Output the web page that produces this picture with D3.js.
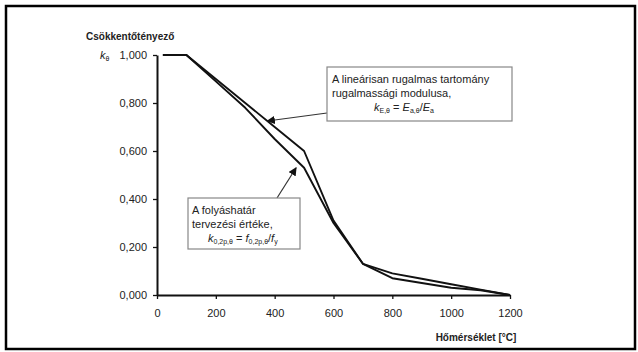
<!DOCTYPE html>
<html lang="hu">
<head>
  <meta charset="UTF-8">
  <title>Csökkentőtényező</title>
  <style>
    html, body { margin: 0; width: 100%; height: 100%; overflow: hidden; background: #fff; }
    svg { display: block; font-family: "Liberation Sans", Arial, sans-serif; }
    .tick text { font-size: 11px; fill: #222; }
  </style>
</head>
<body>
  <div id="chart"></div>
  <script src="https://cdn.jsdelivr.net/npm/d3@7"></script>
  <script>
    // hőmérséklet [°C]
    const temps = [20, 100, 200, 300, 400, 500, 600, 700, 800, 900, 1000, 1100, 1200]
    // k_E,θ  (rugalmassági modulus)
    const kE = [1, 1, 0.9, 0.8, 0.7, 0.6, 0.31, 0.13, 0.09, 0.0675, 0.045, 0.0225, 0]
    // k_0,2p,θ (folyáshatár tervezési értéke)
    const k02p = [1, 1, 0.89, 0.78, 0.65, 0.53, 0.30, 0.13, 0.07, 0.05, 0.03, 0.02, 0]
    const xTicks = [0, 200, 400, 600, 800, 1000, 1200]
    const yTicks = [0, 0.2, 0.4, 0.6, 0.8, 1.0]

    const width = 638
    const height = 352

    const x = d3.scaleLinear().domain([0, 1200]).range([157, 510])
    const y = d3.scaleLinear().domain([0, 1]).range([295, 55])

    const svg = d3.select('#chart').append('svg')
      .attr('width', width)
      .attr('height', height)

    // keret
    svg.append('rect')
      .attr('x', 6).attr('y', 6)
      .attr('width', 629).attr('height', 343)
      .attr('fill', 'none')
      .attr('stroke', '#000')
      .attr('stroke-width', 2.5)

    const fmt = d => d3.format('.3f')(d).replace('.', ',')

    const yAxis = svg.append('g')
      .attr('transform', `translate(${x(0)},0)`)
      .call(d3.axisLeft(y).tickValues(yTicks).tickSize(4).tickSizeOuter(0).tickPadding(6).tickFormat(fmt))
    const xAxis = svg.append('g')
      .attr('transform', `translate(0,${y(0)})`)
      .call(d3.axisBottom(x).tickValues(xTicks).tickSize(4).tickSizeOuter(0).tickPadding(10).tickFormat(d3.format('d')))

    ;[xAxis, yAxis].forEach(a => {
      a.select('.domain').attr('stroke', '#111').attr('stroke-width', 2)
      a.selectAll('.tick line').attr('stroke', '#111').attr('stroke-width', 1.3)
    })

    // k_θ felirat az 1,000 elé
    const kLabel = svg.append('text')
      .attr('x', 100).attr('y', y(1) + 4)
      .attr('font-size', 11).attr('fill', '#222')
    kLabel.append('tspan').attr('font-style', 'italic').text('k')
    kLabel.append('tspan').attr('font-size', 7).attr('dy', 2).text('θ')

    svg.append('text')
      .attr('x', 86).attr('y', 40)
      .attr('font-size', 10).attr('font-weight', 'bold').attr('fill', '#222')
      .text('Csökkentőtényező')

    svg.append('text')
      .attr('x', 476).attr('y', 341)
      .attr('text-anchor', 'middle')
      .attr('font-size', 10).attr('font-weight', 'bold').attr('fill', '#222')
      .text('Hőmérséklet [°C]')

    const line = d3.line()
      .x(d => x(d[0]))
      .y(d => y(d[1]))

    ;[kE, k02p].forEach(series => {
      svg.append('path')
        .datum(temps.map((t, i) => [t, series[i]]))
        .attr('d', line)
        .attr('fill', 'none')
        .attr('stroke', '#111')
        .attr('stroke-width', 1.9)
        .attr('stroke-linejoin', 'round')
    })

    // nyílhegy
    svg.append('defs').append('marker')
      .attr('id', 'arrow')
      .attr('viewBox', '0 0 10 10')
      .attr('refX', 9).attr('refY', 5)
      .attr('markerWidth', 7).attr('markerHeight', 7)
      .attr('orient', 'auto')
      .append('path')
      .attr('d', 'M0,0 L10,5 L0,10 z')
      .attr('fill', '#111')

    // megjegyzések
    function note(box, lines, tip) {
      svg.append('line')
        .attr('x1', box.ax).attr('y1', box.ay)
        .attr('x2', x(tip[0])).attr('y2', y(tip[1]))
        .attr('stroke', '#333').attr('stroke-width', 1.2)
        .attr('marker-end', 'url(#arrow)')
      svg.append('rect')
        .attr('x', box.x).attr('y', box.y)
        .attr('width', box.w).attr('height', box.h)
        .attr('fill', '#fff')
        .attr('stroke', '#888').attr('stroke-width', 1.2)
      lines.forEach((parts, i) => {
        const t = svg.append('text')
          .attr('x', box.x + box.pad + (parts.indent || 0))
          .attr('y', box.y + 16 + i * 14)
          .attr('font-size', 11).attr('fill', '#222')
        parts.segs.forEach(s => {
          const ts = t.append('tspan').text(s.t)
          if (s.i) ts.attr('font-style', 'italic')
          if (s.sub) ts.attr('font-size', 7).attr('baseline-shift', '-25%')
        })
      })
    }

    note({ x: 327, y: 67, w: 185, h: 54, pad: 5, ax: 327, ay: 113 }, [
      { segs: [{ t: 'A lineárisan rugalmas tartomány' }] },
      { segs: [{ t: 'rugalmassági modulusa,' }] },
      { indent: 42, segs: [
        { t: 'k', i: true }, { t: 'E,θ', sub: true }, { t: ' = ' },
        { t: 'E', i: true }, { t: 'a,θ', sub: true }, { t: '/' },
        { t: 'E', i: true }, { t: 'a', sub: true }] }
    ], [375, 0.725])

    note({ x: 188, y: 198, w: 112, h: 51, pad: 4, ax: 277, ay: 198 }, [
      { segs: [{ t: 'A folyáshatár' }] },
      { segs: [{ t: 'tervezési értéke,' }] },
      { indent: 16, segs: [
        { t: 'k', i: true }, { t: '0,2p,θ', sub: true }, { t: ' = ' },
        { t: 'f', i: true }, { t: '0,2p,θ', sub: true }, { t: '/' },
        { t: 'f', i: true }, { t: 'y', sub: true }] }
    ], [473, 0.53])
  </script>
</body>
</html>
